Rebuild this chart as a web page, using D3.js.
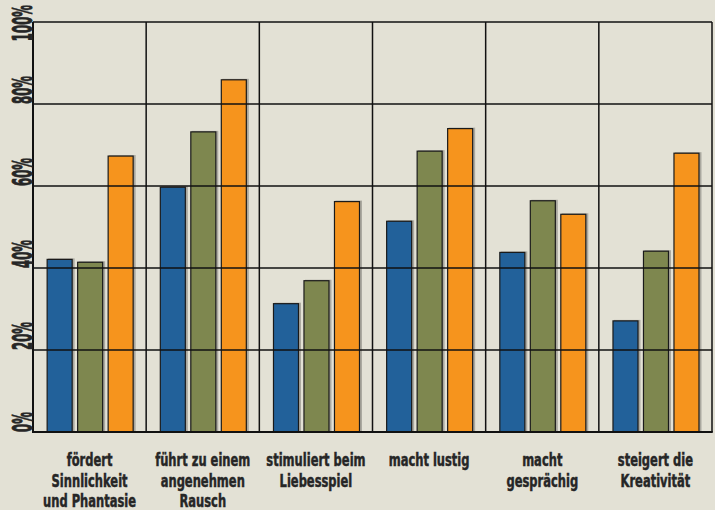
<!DOCTYPE html>
<html>
<head>
<meta charset="utf-8">
<script src="https://cdn.jsdelivr.net/npm/d3@7/dist/d3.min.js"></script>
<style>
  html, body { margin: 0; padding: 0; background: #e3e1d5; }
  svg { display: block; }
  .lbl { font-family: "Liberation Sans Narrow", "DejaVu Sans Condensed", "Liberation Sans", sans-serif; font-weight: bold; fill: #262626; stroke: #262626; }
</style>
</head>
<body>
<div id="chart"></div>
<script>
// Wirkungen – drei Gruppen je Kategorie, Anteile in Prozent

const categories = [
  ['fördert', 'Sinnlichkeit', 'und Phantasie'],
  ['führt zu einem', 'angenehmen', 'Rausch'],
  ['stimuliert beim', 'Liebesspiel'],
  ['macht lustig'],
  ['macht', 'gesprächig'],
  ['steigert die', 'Kreativität']
];
const seriesNames = ['blau', 'grün', 'orange'];
const blueValues = [42.1, 59.7, 31.3, 51.4, 43.8, 27.1];
const greenValues = [41.4, 73.2, 36.9, 68.5, 56.4, 44.1];
const orangeValues = [67.3, 85.9, 56.2, 74.0, 53.1, 68.0];
const yTicks = [0, 20, 40, 60, 80, 100];

const colors = ['#22619a', '#7e874f', '#f6941d'];

const width = 715, height = 510;
const margin = { top: 22, right: 3, bottom: 78, left: 33 };
const innerWidth = width - margin.left - margin.right;
const innerHeight = height - margin.top - margin.bottom;

const svg = d3.select('#chart').append('svg')
  .attr('width', width)
  .attr('height', height);

svg.append('rect').attr('width', width).attr('height', height).attr('fill', '#e3e1d5');

const g = svg.append('g').attr('transform', `translate(${margin.left},${margin.top})`);

const keys = categories.map((c, i) => i);
const x0 = d3.scaleBand().domain(keys).range([0, innerWidth]).padding(0);
const bw = x0.bandwidth();
const x1 = d3.scaleBand().domain(seriesNames)
  .range([bw * 0.125, bw * 0.885])
  .paddingInner(0.18).paddingOuter(0);
const y = d3.scaleLinear().domain([0, 100]).range([innerHeight, 0]);

const rows = keys.map(i => ({
  i,
  vals: [blueValues[i], greenValues[i], orangeValues[i]]
}));

const groups = g.selectAll('.grp')
  .data(rows)
  .enter().append('g')
  .attr('class', 'grp')
  .attr('transform', d => `translate(${x0(d.i)},0)`);

const bars = groups.selectAll('.bar')
  .data(d => d.vals.map((v, k) => ({ v, k })))
  .enter();

// weicher Schatten
bars.append('rect')
  .attr('x', d => x1(seriesNames[d.k]) + 1)
  .attr('y', d => y(d.v) - 1)
  .attr('width', x1.bandwidth() + 1.5)
  .attr('height', d => innerHeight - y(d.v) + 1)
  .attr('fill', '#000')
  .attr('opacity', 0.25);

bars.append('rect')
  .attr('x', d => x1(seriesNames[d.k]))
  .attr('y', d => y(d.v))
  .attr('width', x1.bandwidth())
  .attr('height', d => innerHeight - y(d.v))
  .attr('fill', d => colors[d.k])
  .attr('stroke', '#1a1a1a')
  .attr('stroke-width', 1.2);

// Gitter über den Balken
g.selectAll('.hgrid')
  .data(yTicks.slice(1))
  .enter().append('line')
  .attr('x1', 0).attr('x2', innerWidth)
  .attr('y1', d => y(d)).attr('y2', d => y(d))
  .attr('stroke', '#111').attr('stroke-width', 1.5);

g.selectAll('.vgrid')
  .data(keys.slice(1).map(i => x0(i)).concat([innerWidth]))
  .enter().append('line')
  .attr('x1', d => d).attr('x2', d => d)
  .attr('y1', 0).attr('y2', innerHeight)
  .attr('stroke', '#111').attr('stroke-width', 1.5);

// Achsen
g.append('line').attr('x1', 0).attr('x2', 0).attr('y1', 0).attr('y2', innerHeight)
  .attr('stroke', '#111').attr('stroke-width', 2);
g.append('line').attr('x1', -1).attr('x2', innerWidth + 0.75).attr('y1', innerHeight).attr('y2', innerHeight)
  .attr('stroke', '#111').attr('stroke-width', 2);

// Y-Beschriftung, gedreht
const yl = g.selectAll('.ylab')
  .data(yTicks)
  .enter().append('text')
  .attr('class', 'lbl ylab')
  .style('font-size', '26px')
  .style('stroke-width', '0.9px')
  .text(d => d + '%');

const sample = yl.filter(d => d === 80).node().getComputedTextLength();
const yFactor = 28 / sample;
yl.each(function(d) {
  const len = this.getComputedTextLength() * yFactor;
  const yy = Math.max(y(d), len - margin.top + 5);
  d3.select(this)
    .attr('textLength', len)
    .attr('lengthAdjust', 'spacingAndGlyphs')
    .attr('transform', `translate(-1.5,${yy}) rotate(-90)`);
});

// X-Beschriftung
const xl = g.selectAll('.xlab')
  .data(rows)
  .enter().append('text')
  .attr('class', 'lbl xlab')
  .style('font-size', '18px')
  .style('stroke-width', '0.5px')
  .attr('text-anchor', 'middle')
  .attr('transform', d => `translate(${x0(d.i) + bw / 2},${innerHeight + 34})`);

xl.selectAll('tspan')
  .data(d => categories[d.i].map((t, k) => ({ t, k })))
  .enter().append('tspan')
  .attr('x', 0)
  .attr('y', d => d.k * 20.5)
  .text(d => d.t);

const ref = xl.filter(d => d.i === 0).selectAll('tspan').filter(d => d.k === 2).node().getComputedTextLength();
const xFactor = 93 / ref;
xl.selectAll('tspan').each(function() {
  const len = this.getComputedTextLength() * xFactor;
  d3.select(this).attr('textLength', len).attr('lengthAdjust', 'spacingAndGlyphs');
});
</script>
</body>
</html>
